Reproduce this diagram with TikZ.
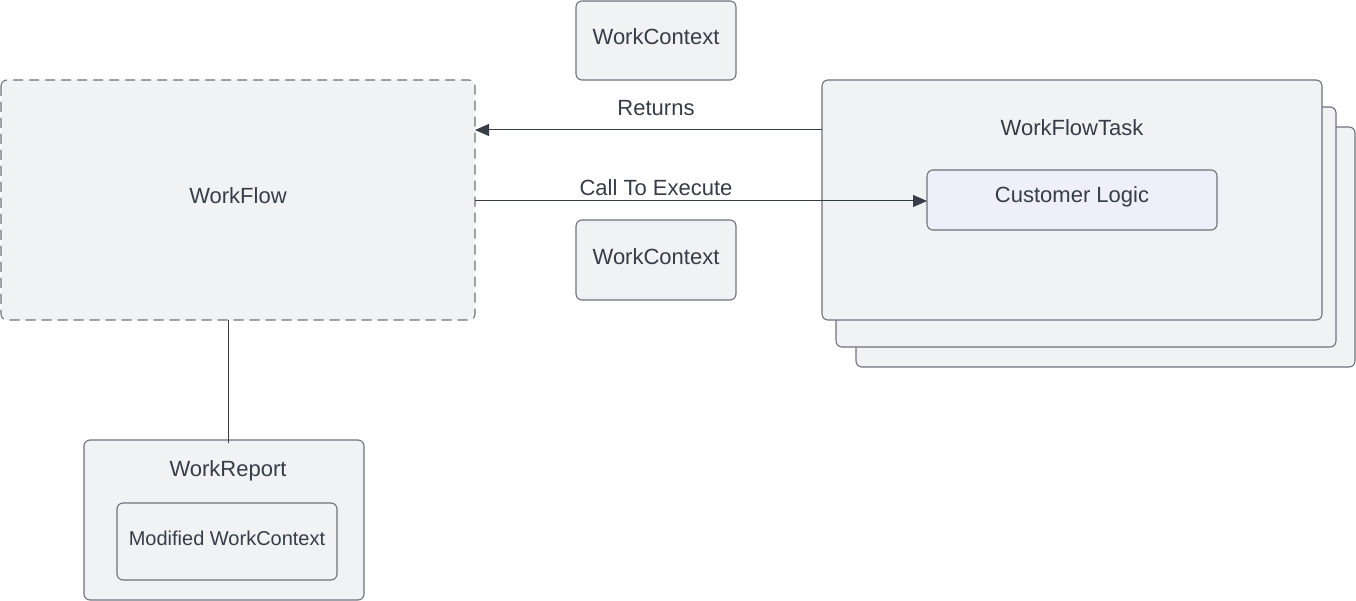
\documentclass[tikz,border=0pt]{standalone}
\usepackage{fontspec}
\setmainfont{Liberation Sans}
\usetikzlibrary{arrows.meta}
\definecolor{boxfill}{HTML}{F1F2F4}
\definecolor{boxline}{HTML}{6E727A}
\definecolor{txt}{HTML}{363D47}
\definecolor{lav}{HTML}{EFEFFB}
\tikzset{
  box/.style={draw=boxline, fill=boxfill, rounded corners=6pt, line width=1.1pt},
  lbl/.style={text=txt, font=\fontsize{22}{26}\selectfont, inner sep=0pt},
  smlbl/.style={text=txt, font=\fontsize{20}{24}\selectfont, inner sep=0pt},
  conn/.style={draw=txt, line width=1pt},
  arr/.style={conn, -{Triangle[length=14pt,width=12pt]}},
}
\begin{document}
\begin{tikzpicture}[x=1pt,y=-1pt]
\useasboundingbox (0,0) rectangle (1356,601);
% WorkFlowTask stack
\draw[box] (856,127) rectangle (1355,367);
\draw[box] (836,107) rectangle (1336,347);
\draw[box] (822,80) rectangle (1322,320);
\node[lbl] (wft) at (1072,128) {WorkFlowTask};
\draw[box, fill=lav] (927,170) rectangle (1217,230);
\node[lbl] (cl) at (1072,197) {Customer Logic};
\coordinate (clw) at (927,201);
\coordinate (wftw) at (822,130);
% WorkFlow
\draw[box, dashed, dash pattern=on 10pt off 6pt] (1,80) rectangle (475,320);
\node[lbl] (wf) at (238,196) {WorkFlow};
\coordinate (wfe1) at (475,130);
\coordinate (wfe2) at (475,201);
\coordinate (wfs) at (228,320);
% WorkContext boxes
\draw[box] (576,1) rectangle (736,80);
\node[lbl] (wc1) at (656,37) {WorkContext};
\draw[box] (576,220) rectangle (736,300);
\node[lbl] (wc2) at (656,257) {WorkContext};
% WorkReport
\draw[box] (84,440) rectangle (364,600);
\node[lbl] (wr) at (228,471) {WorkReport};
\draw[box] (117,503) rectangle (337,580);
\node[smlbl] (mwc) at (227,538) {Modified WorkContext};
\coordinate (wrn) at (228,443);
% connectors
\draw[arr] (wftw) -- (wfe1);
\node[lbl] (ret) at (656,108) {Returns};
\draw[arr] (wfe2) -- (clw);
\node[lbl] (cte) at (656,188) {Call To Execute};
\draw[conn, line width=0.8pt] (wfs) -- (wrn);
\end{tikzpicture}
\end{document}
